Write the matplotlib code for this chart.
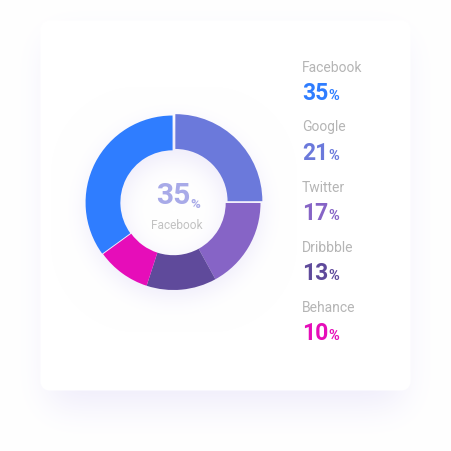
import numpy as np
import matplotlib
matplotlib.use("Agg")
import matplotlib.pyplot as plt

# ---------------- data ----------------
categories = ["Facebook", "Google", "Twitter", "Dribbble", "Behance"]
percent = [35, 21, 17, 13, 10]
colors = ["#2F7DFF", "#6B79DB", "#8664C6", "#5F4A9B", "#E60DB9"]
center_value = 35
center_label = "Facebook"

W = H = 451
plt.rcParams["font.family"] = ["Roboto", "DejaVu Sans"]

fig = plt.figure(figsize=(W / 100, H / 100), dpi=100)

# ---------------- background (card, shadows, glow) ----------------
yy, xx = np.mgrid[0:H, 0:W].astype(float)


def rounded_rect_mask(x0, y0, x1, y1, r):
    cx = np.clip(xx, x0 + r, x1 - r)
    cy = np.clip(yy, y0 + r, y1 - r)
    d = np.hypot(xx - cx, yy - cy)
    return np.clip(r - d + 0.5, 0, 1)


def blur(img, sigma):
    rad = int(3 * sigma)
    k = np.exp(-0.5 * (np.arange(-rad, rad + 1) / sigma) ** 2)
    k /= k.sum()
    p = np.pad(img, rad, mode="constant")
    p = np.apply_along_axis(lambda m: np.convolve(m, k, mode="same"), 0, p)
    p = np.apply_along_axis(lambda m: np.convolve(m, k, mode="same"), 1, p)
    return p[rad:-rad, rad:-rad]


img = np.ones((H, W, 3))
shadow_col = np.array([0.47, 0.38, 0.86])

# card shadow
sh = rounded_rect_mask(48, 38, 402, 405, 10)
sh = blur(sh, 18) * 0.12
img = img * (1 - sh[..., None]) + shadow_col * sh[..., None]

# card
card = rounded_rect_mask(40, 20, 410, 390, 9)
img = img * (1 - card[..., None]) + 1.0 * card[..., None]

# donut glow
cxp, cyp, R = 173.5, 203.0, 87.0
rr = np.hypot(xx - cxp, yy - cyp - 6)
ring = ((rr < R) & (rr > R * 0.6)).astype(float)
glow = blur(ring, 12) * 0.13
img = img * (1 - glow[..., None]) + shadow_col * glow[..., None]

bg = fig.add_axes([0, 0, 1, 1])
bg.imshow(img, extent=(0, W, H, 0), interpolation="bilinear")
bg.set_xlim(0, W)
bg.set_ylim(H, 0)
bg.axis("off")

# ---------------- donut ----------------
# clockwise from the top: Google (fills the rest of the ring), Twitter,
# Dribbble, Behance, Facebook
ax = fig.add_axes([(cxp - R) / W, (H - cyp - R) / H, 2 * R / W, 2 * R / H])
others = [percent[2], percent[3], percent[4], percent[0]]
google_share = 100 - sum(others)
sizes = [google_share] + others
wcolors = [colors[1], colors[2], colors[3], colors[4], colors[0]]
explode = [0.03, 0, 0, 0, 0.012]
wedges, _ = ax.pie(sizes, colors=wcolors, startangle=90, counterclock=False,
                   radius=1.0, explode=explode,
                   wedgeprops=dict(width=0.4, linewidth=0))
ax.set_xlim(-1.0, 1.0)
ax.set_ylim(-1.0, 1.0)
ax.set_aspect("equal")
ax.axis("off")

# center text
ccol = "#A8AAE8"
bg.text(190.5, 204, f"{center_value}", fontsize=21.5, fontweight="bold",
        color=ccol, ha="right", va="baseline")
bg.text(190.0, 207.5, "%", fontsize=9.5, fontweight="bold",
        color=ccol, ha="left", va="baseline")
bg.text(176.5, 229, center_label, fontsize=8.6, color="#C2C2C2",
        ha="center", va="baseline")

# ---------------- legend ----------------
x0 = 302
for i, (cat, val, col) in enumerate(zip(categories, percent, colors)):
    ylab = 71.5 + 60 * i
    yval = 100.5 + 60 * i
    bg.text(x0, ylab, cat, fontsize=10, color="#B5B5B5",
            ha="left", va="baseline")
    t = bg.text(x0, yval, f"{val}", fontsize=16.5, fontweight="bold",
                color=col, ha="left", va="baseline")
    fig.canvas.draw()
    bb = t.get_window_extent()
    xend = bb.x1 / fig.dpi * 100
    bg.text(xend + 0.2, yval, "%", fontsize=10.5, fontweight="bold",
            color=col, ha="left", va="baseline")

fig.savefig("out.png", dpi=100)
